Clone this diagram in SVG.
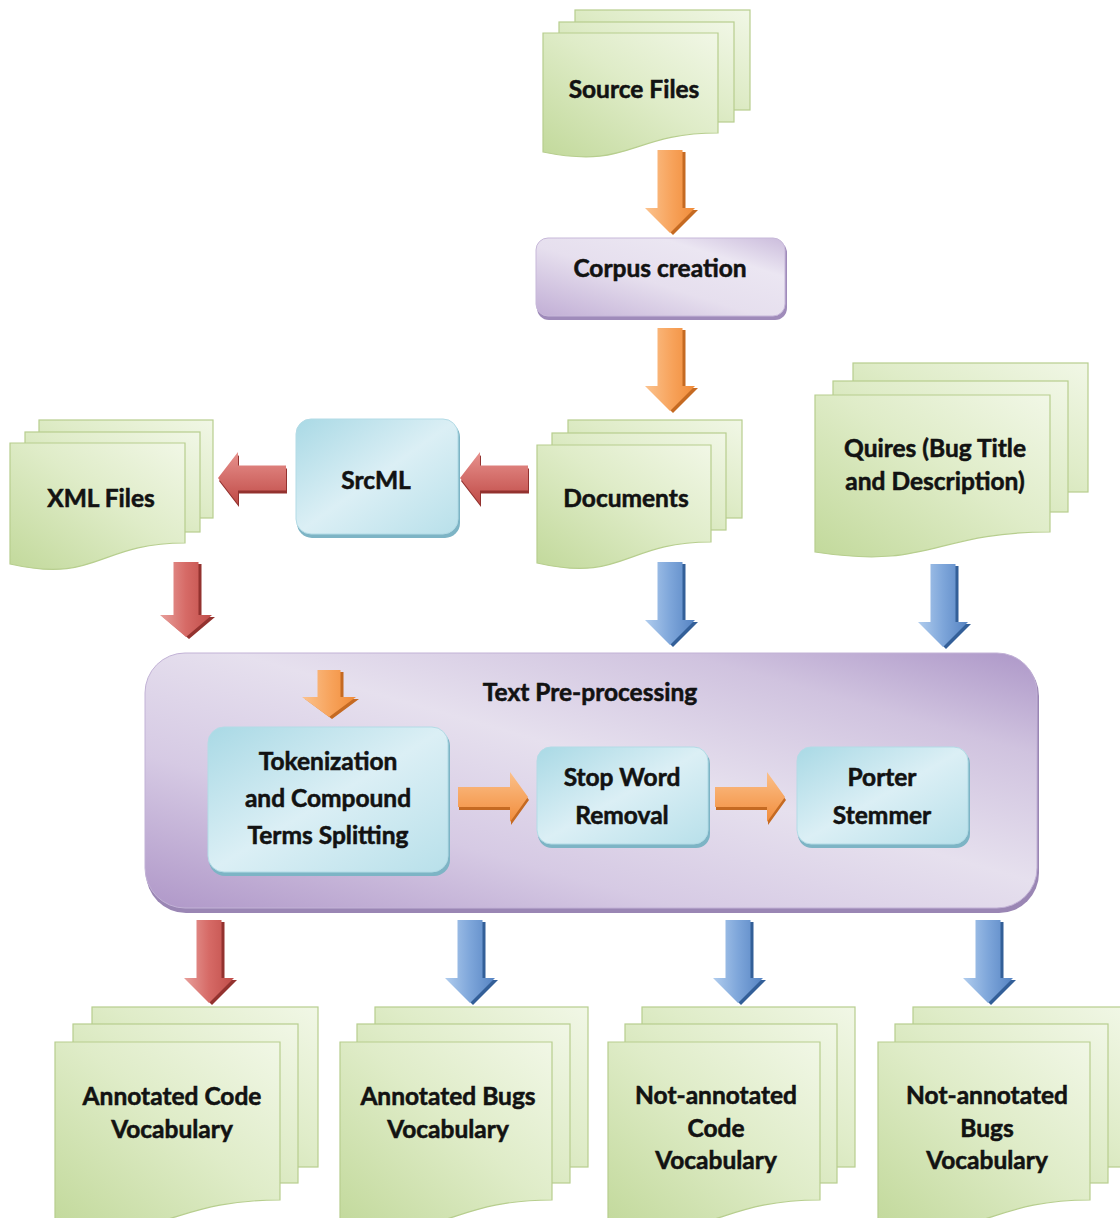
<svg xmlns="http://www.w3.org/2000/svg" width="1120" height="1218" viewBox="0 0 1120 1218">
  <style>
    .t { font-family: Lato, "Liberation Sans", sans-serif; font-weight: 700; font-size: 24.5px; fill: #121212; stroke: #121212; stroke-width: 0.55; text-anchor: middle; }
    .page { fill: url(#gDoc); stroke: #b7ce8e; stroke-width: 1.2; }
    .purple { fill: url(#gPurple); stroke: #c7b8d9; stroke-width: 1; }
    .purpleShade { fill: #9f8bba; }
    .blue { fill: url(#gBlue); stroke: #b3dbe6; stroke-width: 1; }
    .blueShade { fill: #7db4c5; }
    .orV { fill: url(#gOrV); }
    .orH { fill: url(#gOrH); }
    .orX { fill: #c56a22; }
    .redV { fill: url(#gRedV); }
    .redH { fill: url(#gRedH); }
    .redX { fill: #93322f; }
    .bluV { fill: url(#gBluV); }
    .bluX { fill: #335f98; }
  </style>
  <defs>
    <linearGradient id="gDoc" x1="1" y1="0" x2="0" y2="1">
      <stop offset="0" stop-color="#f1f7e6"/>
      <stop offset="0.45" stop-color="#dfecc8"/>
      <stop offset="1" stop-color="#c2d99b"/>
    </linearGradient>
    <linearGradient id="gPurple" x1="0" y1="1" x2="1" y2="0">
      <stop offset="0" stop-color="#c1aed5"/>
      <stop offset="0.45" stop-color="#e6dfee"/>
      <stop offset="0.75" stop-color="#ebe6f2"/>
      <stop offset="1" stop-color="#cbbcdc"/>
    </linearGradient>
    <linearGradient id="gTpp" x1="0" y1="1" x2="1" y2="0">
      <stop offset="0" stop-color="#af97c8"/>
      <stop offset="0.3" stop-color="#d6cae4"/>
      <stop offset="0.55" stop-color="#e6e0ee"/>
      <stop offset="0.8" stop-color="#d0c3df"/>
      <stop offset="1" stop-color="#ad97c8"/>
    </linearGradient>
    <linearGradient id="gBlue" x1="0" y1="0" x2="1" y2="1">
      <stop offset="0" stop-color="#a9d9e5"/>
      <stop offset="0.5" stop-color="#dbeff5"/>
      <stop offset="1" stop-color="#b8e0ea"/>
    </linearGradient>
    <linearGradient id="gOrV" x1="0" y1="0" x2="1" y2="0">
      <stop offset="0" stop-color="#fbc38f"/>
      <stop offset="0.55" stop-color="#f7a25a"/>
      <stop offset="1" stop-color="#f08b38"/>
    </linearGradient>
    <linearGradient id="gOrH" x1="0" y1="0" x2="0" y2="1">
      <stop offset="0" stop-color="#fbc08a"/>
      <stop offset="1" stop-color="#f28d3c"/>
    </linearGradient>
    <linearGradient id="gRedV" x1="0" y1="0" x2="1" y2="0">
      <stop offset="0" stop-color="#e8a09c"/>
      <stop offset="0.5" stop-color="#d66a66"/>
      <stop offset="1" stop-color="#c04d49"/>
    </linearGradient>
    <linearGradient id="gRedH" x1="0" y1="0" x2="0" y2="1">
      <stop offset="0" stop-color="#e7918d"/>
      <stop offset="1" stop-color="#c04b47"/>
    </linearGradient>
    <linearGradient id="gBluV" x1="0" y1="0" x2="1" y2="0">
      <stop offset="0" stop-color="#b1cdee"/>
      <stop offset="0.5" stop-color="#7ea6da"/>
      <stop offset="1" stop-color="#5583c2"/>
    </linearGradient>
    <!-- block arrow outlines -->
    <path id="dn" d="M-12.5,0 H12.5 V58 H25 L0,83 L-25,58 H-12.5 Z"/>
    <path id="dnR" d="M-12.5,0 H12.5 V53 H26 L0,75 L-26,53 H-12.5 Z"/>
    <path id="dnS" d="M-11.5,0 H11.5 V27 H27 L0,47 L-27,27 H-11.5 Z"/>
    <path id="lf" d="M0,0 L20,-26 V-12.5 H68 V12.5 H20 V26 Z"/>
    <path id="rt" d="M0,0 L-18,-25 V-10 H-70 V10 H-18 V25 Z"/>
  </defs>

  <!-- document stacks -->
  <g id="source-files">
    <rect class="page" x="575" y="10" width="175" height="100"/>
    <rect class="page" x="559" y="22" width="175" height="100"/>
    <path class="page" d="M543,33 H718 V133 C630.5,133 630.5,170 543,152 Z"/>
    <text class="t" x="634" y="98">Source Files</text>
  </g>

  <g id="xml-files">
    <rect class="page" x="39" y="420" width="174" height="98"/>
    <rect class="page" x="25" y="432" width="175" height="100"/>
    <path class="page" d="M10,443 H185 V543 C97.5,543 97.5,584 10,564 Z"/>
    <text class="t" x="101" y="507">XML Files</text>
  </g>

  <g id="documents">
    <rect class="page" x="568" y="420" width="174" height="98"/>
    <rect class="page" x="552" y="433" width="174" height="97"/>
    <path class="page" d="M537,445 H711 V542 C624,542 624,583 537,563 Z"/>
    <text class="t" x="626" y="507">Documents</text>
  </g>

  <g id="queries">
    <rect class="page" x="853" y="363" width="235" height="129"/>
    <rect class="page" x="833" y="381" width="235" height="131"/>
    <path class="page" d="M815,395 H1050 V532 C932.5,532 932.5,570 815,552 Z"/>
    <text class="t" x="935" y="457">Quires (Bug Title</text>
    <text class="t" x="935" y="490">and Description)</text>
  </g>

  <g id="annotated-code-vocabulary">
    <rect class="page" x="92" y="1007" width="226" height="160"/>
    <rect class="page" x="73" y="1024" width="225" height="159"/>
    <path class="page" d="M55,1042 H280 V1200 C167.5,1200 167.5,1244 55,1222 Z"/>
    <text class="t" x="172" y="1105">Annotated Code</text>
    <text class="t" x="172" y="1138">Vocabulary</text>
  </g>

  <g id="annotated-bugs-vocabulary">
    <rect class="page" x="375" y="1007" width="213" height="160"/>
    <rect class="page" x="357" y="1024" width="213" height="159"/>
    <path class="page" d="M340,1042 H552 V1200 C446,1200 446,1244 340,1222 Z"/>
    <text class="t" x="448" y="1105">Annotated Bugs</text>
    <text class="t" x="448" y="1138">Vocabulary</text>
  </g>

  <g id="not-annotated-code-vocabulary">
    <rect class="page" x="642" y="1007" width="213" height="160"/>
    <rect class="page" x="625" y="1024" width="212" height="159"/>
    <path class="page" d="M608,1042 H820 V1200 C714,1200 714,1244 608,1222 Z"/>
    <text class="t" x="716" y="1104">Not-annotated</text>
    <text class="t" x="716" y="1137">Code</text>
    <text class="t" x="716" y="1169">Vocabulary</text>
  </g>

  <g id="not-annotated-bugs-vocabulary">
    <rect class="page" x="913" y="1007" width="213" height="160"/>
    <rect class="page" x="895" y="1024" width="213" height="159"/>
    <path class="page" d="M878,1042 H1090 V1200 C984,1200 984,1244 878,1222 Z"/>
    <text class="t" x="987" y="1104">Not-annotated</text>
    <text class="t" x="987" y="1137">Bugs</text>
    <text class="t" x="987" y="1169">Vocabulary</text>
  </g>

  <!-- process boxes -->
  <g id="corpus-creation">
    <rect class="purpleShade" x="537" y="241" width="250" height="79" rx="12"/>
    <rect class="purple" x="536" y="238" width="249" height="78" rx="12"/>
    <text class="t" x="660" y="277">Corpus creation</text>
  </g>

  <g id="srcml">
    <rect class="blueShade" x="297" y="422" width="163" height="116" rx="15"/>
    <rect class="blue" x="296" y="419" width="162" height="115" rx="15"/>
    <text class="t" x="376" y="489">SrcML</text>
  </g>

  <g id="text-preprocessing">
    <rect x="146" y="656" width="893" height="257" rx="40" fill="#9a86b4"/>
    <rect x="145" y="653" width="892" height="255" rx="40" fill="url(#gTpp)" stroke="#c2b2d6" stroke-width="1"/>
    <text class="t" x="590" y="701">Text Pre-processing</text>
  </g>

  <g id="tokenization">
    <rect class="blueShade" x="209" y="730" width="241" height="146" rx="16"/>
    <rect class="blue" x="208" y="727" width="240" height="145" rx="16"/>
    <text class="t" x="328" y="770">Tokenization</text>
    <text class="t" x="328" y="807">and Compound</text>
    <text class="t" x="328" y="844">Terms Splitting</text>
  </g>

  <g id="stop-word-removal">
    <rect class="blueShade" x="538" y="750" width="172" height="98" rx="14"/>
    <rect class="blue" x="537" y="747" width="171" height="97" rx="14"/>
    <text class="t" x="622" y="786">Stop Word</text>
    <text class="t" x="622" y="824">Removal</text>
  </g>

  <g id="porter-stemmer">
    <rect class="blueShade" x="798" y="750" width="172" height="98" rx="14"/>
    <rect class="blue" x="797" y="747" width="171" height="97" rx="14"/>
    <text class="t" x="882" y="786">Porter</text>
    <text class="t" x="882" y="824">Stemmer</text>
  </g>

  <!-- connectors: block arrows with a dark extruded side -->
  <g id="connectors">
    <!-- Source Files to Corpus creation -->
    <use href="#dn" class="orX" transform="translate(673,152)"/>
    <use href="#dn" class="orV" transform="translate(670,150)"/>
    <!-- Corpus creation to Documents -->
    <use href="#dn" class="orX" transform="translate(673,330)"/>
    <use href="#dn" class="orV" transform="translate(670,328)"/>
    <!-- Documents to SrcML -->
    <use href="#lf" class="redX" transform="translate(461,481)"/>
    <use href="#lf" class="redH" transform="translate(460,478)"/>
    <!-- SrcML to XML Files -->
    <use href="#lf" class="redX" transform="translate(219,481)"/>
    <use href="#lf" class="redH" transform="translate(218,478)"/>
    <!-- XML Files to Text Pre-processing -->
    <use href="#dnR" class="redX" transform="translate(189,564)"/>
    <use href="#dnR" class="redV" transform="translate(186,562)"/>
    <!-- Documents to Text Pre-processing -->
    <use href="#dn" class="bluX" transform="translate(673,564)"/>
    <use href="#dn" class="bluV" transform="translate(670,562)"/>
    <!-- Queries to Text Pre-processing -->
    <use href="#dn" class="bluX" transform="translate(946,566)"/>
    <use href="#dn" class="bluV" transform="translate(943,564)"/>
    <!-- into Tokenization -->
    <use href="#dnS" class="orX" transform="translate(332,672)"/>
    <use href="#dnS" class="orV" transform="translate(329,670)"/>
    <!-- Tokenization to Stop Word Removal -->
    <use href="#rt" class="orX" transform="translate(529,800)"/>
    <use href="#rt" class="orH" transform="translate(528,797)"/>
    <!-- Stop Word Removal to Porter Stemmer -->
    <use href="#rt" class="orX" transform="translate(786,800)"/>
    <use href="#rt" class="orH" transform="translate(785,797)"/>
    <!-- Text Pre-processing to the four vocabularies -->
    <use href="#dn" class="redX" transform="translate(212,922)"/>
    <use href="#dn" class="redV" transform="translate(209,920)"/>
    <use href="#dn" class="bluX" transform="translate(473,922)"/>
    <use href="#dn" class="bluV" transform="translate(470,920)"/>
    <use href="#dn" class="bluX" transform="translate(741,922)"/>
    <use href="#dn" class="bluV" transform="translate(738,920)"/>
    <use href="#dn" class="bluX" transform="translate(991,922)"/>
    <use href="#dn" class="bluV" transform="translate(988,920)"/>
  </g>
</svg>
